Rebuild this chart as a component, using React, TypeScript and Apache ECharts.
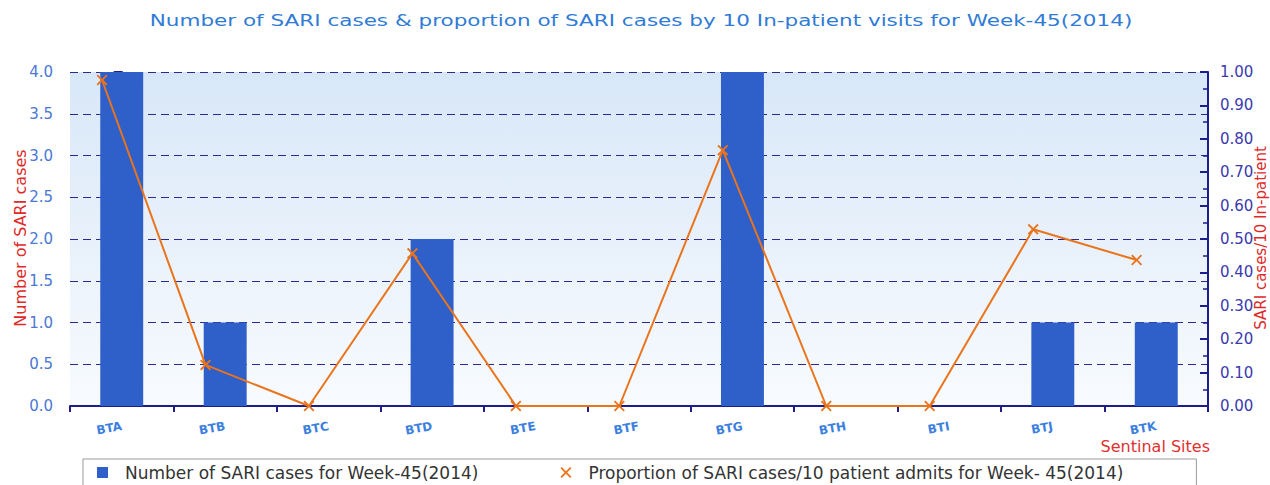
import React, { useEffect, useRef } from "react";
import * as echarts from "echarts";

const sites = ["BTA", "BTB", "BTC", "BTD", "BTE", "BTF", "BTG", "BTH", "BTI", "BTJ", "BTK"];
const sariCases = [4, 1, 0, 2, 0, 0, 4, 0, 0, 1, 1];
const sariProportion = [0.976, 0.123, 0, 0.457, 0, 0, 0.766, 0, 0, 0.529, 0.437];
const leftTicks = { min: 0, max: 4, interval: 0.5 };
const rightTicks = { min: 0, max: 1, interval: 0.1 };

const barName = "Number of SARI cases for Week-45(2014)";
const lineName = "Proportion of SARI cases/10 patient admits for Week- 45(2014)";
const titleText =
  "Number of SARI cases & proportion of SARI cases by 10 In-patient visits for Week-45(2014)";
const leftAxisName = "Number of SARI cases";
const rightAxisName = "SARI cases/10 In-patient";
const xAxisName = "Sentinal Sites";

const LINE_SHIFT = -0.19;
const X_ICON = "path://M0,1.2L1.2,0L5,3.8L8.8,0L10,1.2L6.2,5L10,8.8L8.8,10L5,6.2L1.2,10L0,8.8L3.8,5Z";
const FONT = "DejaVu Sans";
const AXIS_BLUE = "#1d1d8e";
const NAME_RED = "#e02a2a";

export default function App() {
  const ref = useRef<HTMLDivElement>(null);
  useEffect(() => {
    if (!ref.current) return;
    const chart = echarts.init(ref.current, undefined, { renderer: "svg" });
    const lineData = sariProportion.map((v, i) => [i + LINE_SHIFT, v]);
    chart.setOption({
      animation: false,
      textStyle: { fontFamily: FONT },
      legend: {
        top: 459,
        left: 83,
        borderColor: "#9a9a9a",
        borderWidth: 1,
        padding: [5, 73, 8, 14],
        itemGap: 82,
        itemWidth: 11,
        itemHeight: 11,
        textStyle: { color: "#333", fontSize: 17, fontFamily: FONT, padding: [0, 0, 0, 12] },
        data: [
          { name: barName, icon: "rect" },
          { name: lineName, icon: X_ICON },
        ],
      },
      grid: {
        left: 70,
        right: 62,
        top: 72,
        bottom: 79,
        outerBoundsMode: "none",
        containLabel: false,
        show: true,
        borderWidth: 0,
        backgroundColor: new echarts.graphic.LinearGradient(0, 0, 0, 1, [
          { offset: 0, color: "#d8e7f8" },
          { offset: 1, color: "#f8fbfe" },
        ]),
      },
      graphic: [
        {
          type: "text",
          x: 641,
          y: 20,
          scaleX: 1.345,
          style: {
            text: titleText,
            fill: "#2f7bd6",
            fontSize: 16,
            fontFamily: FONT,
            textAlign: "center",
            textVerticalAlign: "middle",
          },
        },
        {
          type: "text",
          x: 20,
          y: 238,
          rotation: Math.PI / 2,
          style: {
            text: leftAxisName,
            fill: NAME_RED,
            fontSize: 16,
            fontFamily: FONT,
            textAlign: "center",
            textVerticalAlign: "middle",
          },
        },
        {
          type: "text",
          x: 1261,
          y: 238,
          rotation: Math.PI / 2,
          z: 10,
          style: {
            text: rightAxisName,
            fill: NAME_RED,
            fontSize: 15,
            fontFamily: FONT,
            textAlign: "center",
            textVerticalAlign: "middle",
          },
        },
        {
          type: "text",
          right: 60,
          top: 438,
          style: { text: xAxisName, fill: "#e03030", fontSize: 16, fontFamily: FONT },
        },
      ],
      xAxis: [
        {
          type: "category",
          data: sites,
          boundaryGap: true,
          axisLine: { lineStyle: { color: AXIS_BLUE, width: 2 } },
          axisTick: { show: true, length: 6, interval: 0, lineStyle: { color: AXIS_BLUE, width: 2 } },
          axisLabel: { rotate: 10, fontSize: 12, fontWeight: "bold", color: "#3b80de", margin: 20, interval: 0 },
          splitLine: { show: false },
        },
        {
          type: "value",
          show: false,
          min: -0.5,
          max: sites.length - 0.5,
          splitLine: { show: false },
        },
      ],
      yAxis: [
        {
          type: "value",
          min: leftTicks.min,
          max: leftTicks.max,
          interval: leftTicks.interval,
          axisLine: { show: true, lineStyle: { color: AXIS_BLUE, width: 2 } },
          axisTick: { show: true, length: 8, lineStyle: { color: AXIS_BLUE, width: 2 } },
          minorTick: { show: true, splitNumber: 5, length: 5, lineStyle: { color: AXIS_BLUE, width: 1.5 } },
          axisLabel: {
            formatter: (v: number) => v.toFixed(1),
            color: "#4a78d4",
            fontSize: 15,
            margin: 17,
          },
          splitLine: { show: true, lineStyle: { color: "#2a2a92", width: 1, type: [8, 5] } },
        },
        {
          type: "value",
          position: "right",
          min: rightTicks.min,
          max: rightTicks.max,
          interval: rightTicks.interval,
          axisLine: { show: true, lineStyle: { color: AXIS_BLUE, width: 2 } },
          axisTick: { show: true, inside: true, length: 8, lineStyle: { color: AXIS_BLUE, width: 2 } },
          minorTick: { show: true, splitNumber: 2, length: 5, lineStyle: { color: AXIS_BLUE, width: 1.5 } },
          axisLabel: {
            formatter: (v: number) => v.toFixed(2),
            color: "#3a3aae",
            fontSize: 15,
            margin: 12,
          },
          splitLine: { show: false },
        },
      ],
      series: [
        {
          name: barName,
          type: "bar",
          xAxisIndex: 0,
          yAxisIndex: 0,
          data: sariCases,
          barWidth: "41.5%",
          itemStyle: { color: "#2f5fc8" },
        },
        {
          name: lineName,
          type: "line",
          xAxisIndex: 1,
          yAxisIndex: 1,
          data: lineData,
          symbol: X_ICON,
          symbolSize: 11,
          lineStyle: { color: "#ea741c", width: 2 },
          itemStyle: { color: "#ea741c" },
          z: 5,
        },
      ],
    });
    return () => chart.dispose();
  }, []);
  return (
    <div
      ref={ref}
      style={{ position: "absolute", left: 0, top: 0, width: 1270, height: 485 }}
    />
  );
}
